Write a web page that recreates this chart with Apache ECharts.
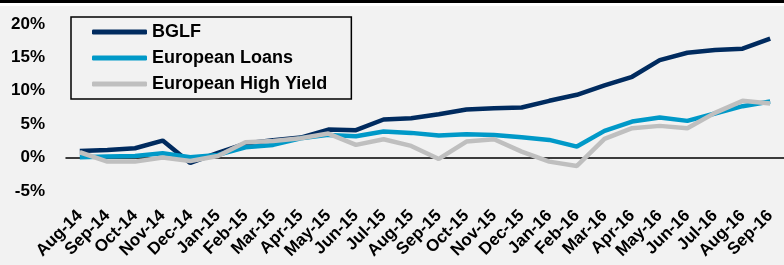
<!DOCTYPE html>
<html>
<head>
<meta charset="utf-8">
<script src="https://cdn.jsdelivr.net/npm/echarts@6/dist/echarts.min.js"></script>
<style>
  html, body { margin: 0; padding: 0; background: #f2f2f2; }
  #chart { width: 784px; height: 265px; }
</style>
</head>
<body>
<div id="chart"></div>
<script>
const months = ["Aug-14", "Sep-14", "Oct-14", "Nov-14", "Dec-14", "Jan-15", "Feb-15", "Mar-15", "Apr-15",
  "May-15", "Jun-15", "Jul-15", "Aug-15", "Sep-15", "Oct-15", "Nov-15", "Dec-15", "Jan-16", "Feb-16",
  "Mar-16", "Apr-16", "May-16", "Jun-16", "Jul-16", "Aug-16", "Sep-16"];
const bglf = [1.0, 1.15, 1.4, 2.55, -0.8, 0.7, 2.1, 2.6, 3.0, 4.2, 4.1, 5.7, 5.9, 6.5, 7.2, 7.4, 7.5,
  8.5, 9.4, 10.8, 12.1, 14.6, 15.7, 16.1, 16.3, 17.8];
const euroLoans = [0.05, 0.15, 0.25, 0.65, 0.05, 0.4, 1.55, 1.9, 2.9, 3.4, 3.2, 3.9, 3.7, 3.3, 3.5, 3.4,
  3.05, 2.65, 1.65, 4.0, 5.4, 6.0, 5.5, 6.6, 7.7, 8.4];
const euroHY = [0.8, -0.6, -0.6, 0.0, -0.5, 0.25, 2.3, 2.5, 2.9, 3.6, 1.9, 2.75, 1.75, -0.2, 2.4, 2.75,
  0.9, -0.6, -1.25, 2.8, 4.4, 4.75, 4.4, 6.7, 8.5, 8.1];

let myChart = echarts.init(document.getElementById("chart"));
const font = "Liberation Sans";

const makeLine = (name, data, color) => ({
  type: "line",
  name: name,
  data: data,
  showSymbol: false,
  symbol: "none",
  lineStyle: { width: 4.5, color: color },
  itemStyle: { color: color },
  animation: false,
});

let option = {
  backgroundColor: "#f2f2f2",
  textStyle: { fontFamily: font },
  graphic: [
    // black rule + white strip at the top
    { type: "rect", left: 0, top: 0, shape: { width: 784, height: 3 }, style: { fill: "#000" } },
    { type: "rect", left: 0, top: 3, shape: { width: 784, height: 3 }, style: { fill: "#fff" } },
  ],
  grid: { left: 66, right: -12, top: 24, bottom: 74 },
  legend: {
    orient: "vertical",
    left: 71,
    top: 17,
    padding: [6, 24, 6, 21],
    borderColor: "#000",
    borderWidth: 1.5,
    itemWidth: 55,
    itemHeight: 5,
    itemGap: 8,
    itemTextGap: 5,
    icon: "roundRect",
    textStyle: { fontFamily: font, fontWeight: "bold", fontSize: 18, color: "#000" },
    data: ["BGLF", "European Loans", "European High Yield"],
  },
  xAxis: [
    {
      type: "category",
      data: months,
      position: "bottom",
      axisLine: { show: false, onZero: false },
      axisTick: { show: false },
      axisLabel: {
        interval: 0,
        rotate: 45,
        margin: 22,
        fontFamily: font,
        fontWeight: "bold",
        fontSize: 17,
        color: "#000",
      },
    },
    {
      // zero line
      type: "category",
      data: months,
      position: "top",
      axisLine: { show: true, onZero: true, lineStyle: { color: "#000", width: 1.5 } },
      axisTick: { show: false },
      axisLabel: { show: false },
    },
  ],
  yAxis: {
    type: "value",
    min: -5,
    max: 20,
    interval: 5,
    axisLine: { show: false },
    axisTick: { show: false },
    splitLine: { show: false },
    axisLabel: {
      formatter: "{value}%",
      margin: 21,
      fontFamily: font,
      fontWeight: "bold",
      fontSize: 17,
      color: "#000",
    },
  },
  series: [
    makeLine("BGLF", bglf, "#002b5f"),
    makeLine("European Loans", euroLoans, "#0099c8"),
    makeLine("European High Yield", euroHY, "#bfbfbf"),
  ],
};

option && myChart.setOption(option);
</script>
</body>
</html>
